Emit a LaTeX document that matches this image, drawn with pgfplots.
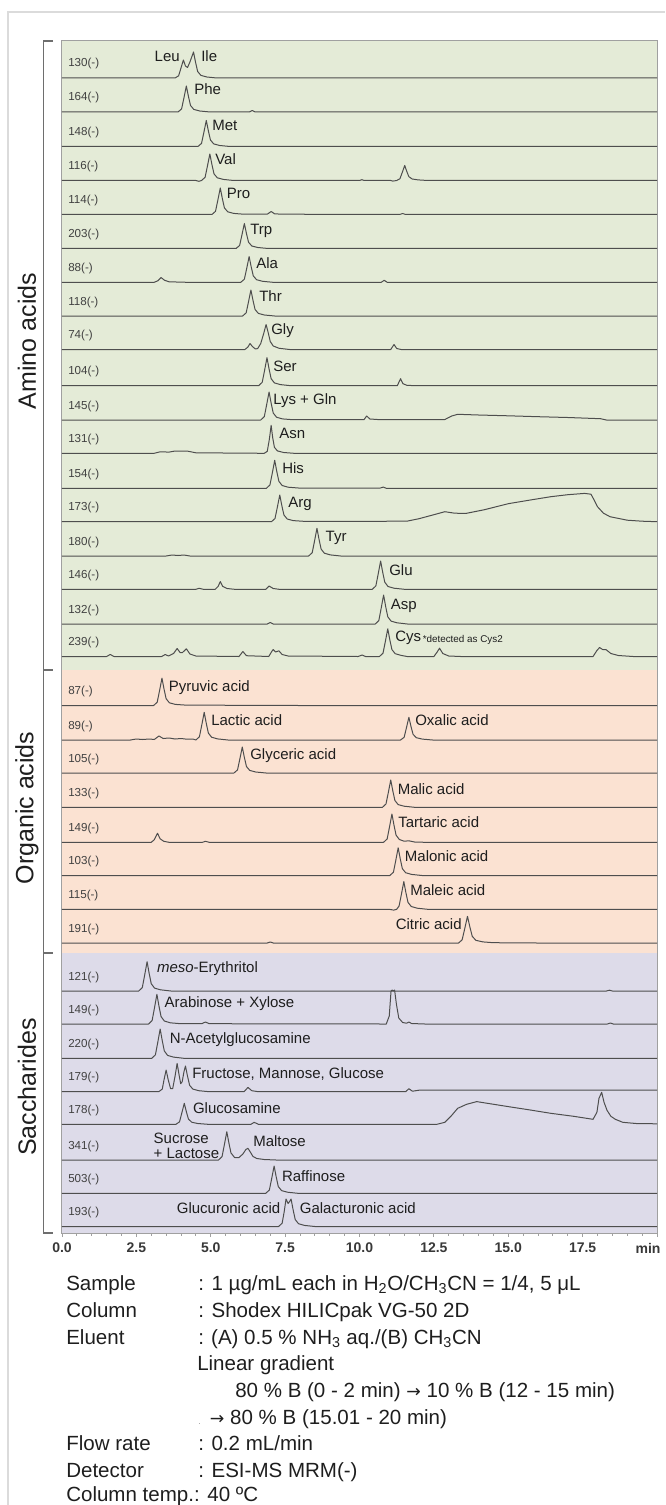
\documentclass[border=0pt]{standalone}
\usepackage{fontspec}
\setmainfont{Liberation Sans}
\newfontfamily\djv{DejaVu Sans}
\usepackage{pgfplots}
\pgfplotsset{compat=1.18}

\definecolor{aabg}{RGB}{228,235,215}
\definecolor{oabg}{RGB}{251,226,210}
\definecolor{sabg}{RGB}{221,219,233}
\definecolor{trc}{RGB}{78,78,78}
\definecolor{frm}{RGB}{160,160,160}
\definecolor{brk}{RGB}{110,110,110}
\definecolor{txt}{RGB}{30,30,30}

% one chromatogram: #1 = baseline (px from top), #2 = "time height" rows (height in px)
\newcommand{\trace}[2]{\addplot[trc, line width=0.75pt, line join=round]
  table[header=false, row sep=\\, x index=0, y expr={1233-#1+\thisrowno{1}}] {#2};}
\newcommand{\arr}{{\djv\fontsize{13}{15}\selectfont →}}

\tikzset{
  pk/.style={font=\fontsize{11.25}{13}\selectfont, inner sep=0pt, anchor=base west, text=txt},
  pke/.style={pk, anchor=base east},
  ion/.style={font=\fontsize{8.7}{10}\selectfont, inner sep=0pt, anchor=base west, text=txt!85},
  grp/.style={font=\fontsize{18.75}{22}\selectfont, rotate=90, inner sep=0pt, text=txt},
  cond/.style={font=\fontsize{15.4}{18}\selectfont, inner sep=0pt, anchor=base west, text=txt},
}

\begin{document}
\begin{tikzpicture}
\path[use as bounding box] (0,0) rectangle (498.75pt,-1128.75pt);
\clip (0,0) rectangle (498.75pt,-1128.75pt);

\begin{scope}[x=0.75pt, y=-0.75pt]
  \draw[black!14, line width=1.1pt] (8,1505) -- (8,12) -- (665,12);
  \fill[aabg] (62,40.7) rectangle (657,670);
  \fill[oabg] (62,670) rectangle (657,953);
  \fill[sabg] (62,953) rectangle (657,1233);
\end{scope}

\begin{axis}[
  at={(46.5pt,-924.75pt)}, anchor=south west,
  scale only axis, width=446.25pt, height=894.225pt,
  xmin=0, xmax=20, ymin=0, ymax=1192.3,
  axis line style={frm, line width=0.75pt},
  ytick=\empty,
  xtick={0,2.5,...,20},
  xticklabels={0.0,2.5,5.0,7.5,10.0,12.5,15.0,17.5,{}},
  minor x tick num=4,
  xtick pos=left, tick align=outside,
  major tick length=3pt, minor tick length=2.2pt,
  tick style={frm, line width=0.6pt},
  xticklabel style={font=\bfseries\fontsize{10.5}{12}\selectfont, text=black!78, yshift=-1pt},
  /pgf/number format/assume math mode=true,
]
% --- amino acids ---
\trace{78}{0 0\\3.8 0\\3.92 2.2\\4.0 10\\4.08 18\\4.15 12\\4.22 10.5\\4.3 16\\4.42 26\\4.49 15.6\\4.56 6.5\\4.67 2.6\\4.87 1\\5.2 0\\20 0\\}
\trace{112}{0 0\\3.9 0\\4.02 3.1\\4.1 14.3\\4.18 26\\4.25 15.6\\4.32 6.5\\4.43 2.6\\4.63 1\\4.98 0\\6.3 0\\6.39 1.5\\6.5 0\\20 0\\}
\trace{146.5}{0 0\\4.57 0\\4.69 3.1\\4.77 14.3\\4.85 26\\4.92 15.6\\4.99 6.5\\5.1 2.6\\5.3 1\\5.65 0\\20 0\\}
\trace{180.5}{0 0\\4.5 0\\4.6 -0.8\\4.69 0\\4.81 3.2\\4.89 14.6\\4.97 26.5\\5.04 15.9\\5.11 6.6\\5.22 2.7\\5.42 1.1\\5.77 0\\10.0 0\\10.08 0.8\\10.16 0\\11.05 0\\11.12 -0.6\\11.25 0\\11.36 1.8\\11.44 8.3\\11.52 15\\11.59 9\\11.66 3.8\\11.77 1.5\\11.97 0.6\\12.3 0\\20 0\\}
\trace{214.5}{0 0\\5.04 0\\5.16 3.2\\5.24 14.6\\5.32 26.5\\5.39 15.9\\5.46 6.6\\5.57 2.7\\5.77 1.1\\6.1 0.3\\6.9 0.3\\7.03 3\\7.15 0.6\\7.5 0.3\\11.35 0\\11.45 1\\11.55 0\\20 0\\}
\trace{248.5}{0 0\\5.85 0\\5.97 3\\6.05 13.8\\6.13 25\\6.2 15\\6.27 6.3\\6.38 2.5\\6.58 1\\6.93 0\\20 0\\}
\trace{282.3}{0 0\\3.1 0\\3.22 1.5\\3.33 4.7\\3.45 2\\3.6 0.5\\4.2 0\\6.01 0\\6.13 3.1\\6.21 14.1\\6.29 25.7\\6.36 15.4\\6.43 6.4\\6.54 2.6\\6.74 1\\7.09 0\\10.73 0\\10.83 2\\10.93 0\\20 0\\}
\trace{316}{0 0\\6.07 0\\6.19 3.1\\6.27 14.3\\6.35 26\\6.42 15.6\\6.49 6.5\\6.6 2.6\\6.8 1\\7.15 0\\20 0\\}
\trace{349.5}{0 0\\6.15 0\\6.25 2.5\\6.32 6\\6.4 3\\6.5 0.5\\6.58 1\\6.68 6\\6.78 16\\6.86 25\\6.93 17\\7.0 8\\7.1 3.5\\7.3 1.2\\7.65 0\\11.05 0\\11.16 5\\11.25 1\\11.4 0\\20 0\\}
\trace{385.7}{0 0\\6.61 0\\6.73 3.4\\6.81 15.4\\6.89 28\\6.96 16.8\\7.03 7\\7.14 2.8\\7.34 1.1\\7.69 0\\11.27 0\\11.38 7\\11.46 2\\11.6 0.3\\12 0\\20 0\\}
\trace{420}{0 0\\6.68 0\\6.8 3.4\\6.88 15.4\\6.96 28\\7.03 16.8\\7.1 7\\7.21 2.8\\7.41 1.1\\7.76 0.3\\10.15 0.3\\10.24 4\\10.35 1\\10.6 0.5\\12.87 0.5\\13.1 4\\13.3 5.7\\14 5\\15 4.2\\16 3.3\\17 2.5\\18.1 1.3\\18.3 0\\20 0\\}
\trace{453.3}{0 0\\3.1 0\\3.3 1.5\\3.6 1.2\\3.8 2.3\\4.2 2.3\\4.5 0.5\\6.8 0\\6.9 2\\6.97 14\\7.03 28\\7.08 16\\7.14 6\\7.24 2.4\\7.45 0.8\\7.8 0\\20 0\\}
\trace{488.3}{0 0\\6.87 0\\6.99 3.4\\7.07 15.4\\7.15 28\\7.22 16.8\\7.29 7\\7.4 2.8\\7.6 1.1\\7.95 0.3\\10.7 0.3\\10.8 1.2\\10.9 0\\20 0\\}
\trace{521.7}{0 0\\7.04 0\\7.16 3.2\\7.24 14.7\\7.32 26.7\\7.39 16\\7.46 6.7\\7.57 2.7\\7.77 1.1\\8.12 0.4\\10.8 0.4\\11.2 0.6\\11.59 0.5\\12.0 3\\12.5 7\\12.87 10\\13.2 8.5\\13.58 8.3\\14.2 12\\15.0 18\\15.7 21.5\\16.43 25\\17.0 27\\17.57 28.3\\17.78 27.5\\17.9 21\\18.0 15\\18.2 8.5\\18.42 5\\19.0 1.5\\19.5 0.5\\20 0\\}
\trace{556}{0 0\\3.5 0\\3.7 1\\3.9 0.5\\4.1 1\\4.3 0\\8.29 0\\8.41 3.3\\8.49 15.2\\8.57 27.7\\8.64 16.6\\8.71 6.9\\8.82 2.8\\9.02 1.1\\9.37 0\\20 0\\}
\trace{589.3}{0 0\\4.5 0\\4.61 1\\4.75 0\\5.15 0\\5.25 3\\5.32 7.7\\5.4 3\\5.55 0.8\\5.8 0\\6.85 0\\6.96 3.3\\7.1 0.8\\7.3 0\\10.43 0\\10.55 3.4\\10.63 15.6\\10.71 28.3\\10.78 17\\10.85 7.1\\10.96 2.8\\11.16 1.1\\11.51 0\\20 0\\}
\trace{624}{0 0\\6.9 0\\7.0 1.5\\7.1 0\\10.53 0\\10.65 3.5\\10.73 16\\10.81 29\\10.88 17.4\\10.95 7.3\\11.06 2.9\\11.26 1.2\\11.61 0\\20 0\\}
\trace{656.5}{0 0\\1.5 0\\1.62 2\\1.75 0\\3.35 0\\3.47 2\\3.58 0.5\\3.75 3\\3.87 8\\3.97 4\\4.05 4\\4.18 7.7\\4.3 2.5\\4.5 0.5\\5.95 0\\6.08 5\\6.2 0.8\\6.95 0\\7.05 5\\7.1 7\\7.18 4.5\\7.29 5.7\\7.4 2\\7.6 0.5\\9.95 0\\10.09 1.5\\10.2 0\\10.67 0\\10.79 3.3\\10.87 15.2\\10.95 27.7\\11.02 16.6\\11.09 6.9\\11.2 2.8\\11.4 1.1\\11.6 0\\12.5 0\\12.6 4\\12.69 8.3\\12.8 3\\13.0 0.5\\13.4 0\\17.85 0\\17.98 6\\18.07 9\\18.17 7\\18.28 7\\18.45 3\\18.7 1\\19.2 0\\20 0\\}
% --- organic acids ---
\trace{705.5}{0 0\\3.08 0\\3.2 3.3\\3.28 15\\3.36 27.3\\3.43 16.4\\3.5 6.8\\3.61 2.7\\3.81 1.1\\4.16 0.4\\6 0.2\\8 0\\20 0\\}
\trace{740}{0 0\\2.3 0\\2.5 1\\2.7 0.5\\2.95 1\\3.1 0.5\\3.26 4\\3.4 1.5\\3.6 2\\3.8 1\\4.0 1.5\\4.2 0.8\\4.4 1\\4.5 0\\4.62 3.3\\4.7 15.2\\4.78 27.7\\4.85 16.6\\4.92 6.9\\5.03 2.8\\5.23 1.1\\5.58 0\\11.38 0\\11.5 2.7\\11.58 12.5\\11.66 22.7\\11.73 13.6\\11.8 5.7\\11.91 2.3\\12.11 0.9\\12.46 0\\20 0\\}
\trace{773}{0 0\\5.78 0\\5.9 3.1\\5.98 14.3\\6.06 26\\6.13 15.6\\6.2 6.5\\6.31 2.6\\6.51 1\\6.86 0\\20 0\\}
\trace{807.3}{0 0\\10.77 0\\10.89 3.3\\10.97 15\\11.05 27.3\\11.12 16.4\\11.19 6.8\\11.3 2.7\\11.5 1.1\\11.85 0\\20 0\\}
\trace{842.3}{0 0\\3.0 0\\3.1 2.5\\3.21 9\\3.3 3.5\\3.42 1\\3.6 0\\4.72 0\\4.82 1\\4.95 0\\10.81 0\\10.93 3.4\\11.01 15.6\\11.09 28.3\\11.16 17\\11.23 7.1\\11.34 2.8\\11.5 1.1\\11.66 1.5\\11.85 0.3\\12.2 0\\20 0\\}
\trace{875.5}{0 0\\11.02 0\\11.14 3.3\\11.22 15.2\\11.3 27.7\\11.37 16.6\\11.44 6.9\\11.55 2.8\\11.75 1.1\\12.1 0\\20 0\\}
\trace{909.3}{0 0\\11.0 0\\11.15 -0.8\\11.25 0\\11.33 3.3\\11.41 15.2\\11.49 27.7\\11.56 16.6\\11.63 6.9\\11.74 2.8\\11.94 1.1\\12.29 0\\20 0\\}
\trace{943}{0 0\\6.9 0\\7.0 1\\7.1 0\\13.33 0\\13.45 3.2\\13.54 14.7\\13.63 26.7\\13.71 16\\13.79 6.7\\13.91 2.7\\14.15 1.1\\14.5 0.3\\16 0\\20 0\\}
% --- saccharides ---
\trace{991}{0 0\\2.58 0\\2.7 3.5\\2.78 16.1\\2.86 29.3\\2.93 17.6\\3.0 7.3\\3.11 2.9\\3.31 1.2\\3.66 0\\18.3 0\\18.4 0.8\\18.5 0\\20 0\\}
\trace{1024}{0 0\\2.91 0\\3.03 3.6\\3.11 16.3\\3.19 29.7\\3.26 17.8\\3.33 7.4\\3.44 3\\3.64 1.2\\3.99 0.3\\4.7 0.3\\4.82 2\\4.95 0.3\\10.9 0\\11.0 8\\11.06 33\\11.1 34\\11.14 33\\11.18 34\\11.24 20\\11.32 6\\11.45 1.5\\11.58 0.8\\11.66 2\\11.75 0.5\\12.2 0\\18.33 0\\18.43 1\\18.53 0\\20 0\\}
\trace{1058.3}{0 0\\3.02 0\\3.14 3.5\\3.22 16.1\\3.3 29.3\\3.37 17.6\\3.44 7.3\\3.55 2.9\\3.75 1.2\\4.1 0\\20 0\\}
\trace{1091.7}{0 0\\3.25 0\\3.37 2.6\\3.43 12\\3.5 21.7\\3.57 12\\3.65 3\\3.72 3\\3.8 15.5\\3.87 28.3\\3.94 16\\3.99 8\\4.04 10\\4.1 20\\4.15 25.7\\4.22 15.4\\4.29 6.4\\4.4 2.6\\4.6 1\\4.95 0\\6.12 0\\6.25 4.3\\6.38 1\\6.6 0\\11.55 0\\11.66 3\\11.78 0.5\\12 1.5\\20 1.5\\}
\trace{1124.3}{0 0\\3.83 0\\3.95 2.5\\4.03 11.6\\4.11 21\\4.18 12.6\\4.25 5.3\\4.36 2.1\\4.56 0.8\\4.91 0\\6.35 0\\6.46 2\\6.6 0\\12.6 0\\12.87 2\\13.1 9\\13.3 16\\13.6 20\\13.94 22.7\\14.3 21\\15.0 17.7\\15.7 14.5\\16.43 11\\17.2 8\\17.85 5\\17.98 12\\18.05 26\\18.14 32\\18.22 22\\18.32 14\\18.45 8\\18.6 5\\18.85 2\\19.3 0.8\\20 0.5\\}
\trace{1160}{0 0\\5.26 0\\5.38 3.4\\5.46 15.6\\5.54 28.3\\5.61 17\\5.68 7.1\\5.8 2.5\\5.95 2.5\\6.08 6\\6.18 10.5\\6.25 11.7\\6.33 8\\6.42 3.5\\6.55 1.5\\6.8 0.5\\7.2 0\\20 0\\}
\trace{1193.3}{0 0\\6.85 0\\6.97 3.3\\7.05 15\\7.13 27.3\\7.2 16.4\\7.27 6.8\\7.38 2.7\\7.58 1.1\\7.93 0\\20 0\\}
\trace{1226.5}{0 0\\7.28 0\\7.4 3.3\\7.47 15\\7.53 27.5\\7.6 23\\7.65 25\\7.7 27.5\\7.77 16.5\\7.84 6.9\\7.95 2.8\\8.15 1.1\\8.5 0\\20 0\\}
\end{axis}

\begin{scope}[x=0.75pt, y=-0.75pt]
  % group bracket
  \draw[brk, line width=1pt] (53,41) -- (43.3,41) -- (43.3,1233) -- (53,1233);
  \draw[brk, line width=1pt] (43.3,670) -- (53,670);
  \draw[brk, line width=1pt] (43.3,953) -- (53,953);
  \node[grp] at (27,341) {Amino acids};
  \node[grp] at (27,808) {Organic acids};
  \node[grp] at (27,1087) {Saccharides};

  % ion labels
  \foreach \lab/\b in {130/78,164/112,148/146.5,116/180.5,114/214.5,203/248.5,88/282.3,118/316,
      74/349.5,104/385.7,145/420,131/453.3,154/488.3,173/521.7,180/556,146/589.3,132/624,239/656.5,
      87/705.5,89/740,105/773,133/807.3,149/842.3,103/875.5,115/909.3,191/943,
      121/991,149/1024,220/1058.3,179/1091.7,178/1124.3,341/1160,503/1193.3,193/1226.5}
    \node[ion] at (68,\b-11) {\lab(-)};

  % peak names
  \node[pke] at (180,62) {Leu};
  \node[pk] at (201,62) {Ile};
  \node[pk] at (194,95) {Phe};
  \node[pk] at (212,131) {Met};
  \node[pk] at (215,165) {Val};
  \node[pk] at (226.7,199) {Pro};
  \node[pk] at (250,235) {Trp};
  \node[pk] at (256,268) {Ala};
  \node[pk] at (259,301.7) {Thr};
  \node[pk] at (271,334) {Gly};
  \node[pk] at (273,371) {Ser};
  \node[pk] at (273,404) {Lys + Gln};
  \node[pk] at (279,438) {Asn};
  \node[pk] at (282,473) {His};
  \node[pk] at (288,507.7) {Arg};
  \node[pk] at (325.4,541.7) {Tyr};
  \node[pk] at (389,575) {Glu};
  \node[pk] at (390.7,609) {Asp};
  \node[pk] at (395,641.7) {Cys};
  \node[pk, font=\fontsize{7.4}{9}\selectfont] at (422.5,642.5) {*detected as Cys2};
  \node[pk] at (168.6,691.7) {Pyruvic acid};
  \node[pk] at (211,725.7) {Lactic acid};
  \node[pk] at (415,725.7) {Oxalic acid};
  \node[pk] at (250,759.3) {Glyceric acid};
  \node[pk] at (397.5,794) {Malic acid};
  \node[pk] at (398,827.7) {Tartaric acid};
  \node[pk] at (404.7,861.7) {Malonic acid};
  \node[pk] at (410,895.7) {Maleic acid};
  \node[pke] at (461.9,929) {Citric acid};
  \node[pk] at (156.8,972.3) {\textit{meso}-Erythritol};
  \node[pk] at (164.4,1007.7) {Arabinose + Xylose};
  \node[pk] at (169.5,1043.3) {N-Acetylglucosamine};
  \node[pk] at (192,1078.3) {Fructose, Mannose, Glucose};
  \node[pk] at (192.8,1113.3) {Glucosamine};
  \node[pk] at (153.4,1143.3) {Sucrose};
  \node[pk] at (153.4,1158.3) {+ Lactose};
  \node[pk] at (253,1146.7) {Maltose};
  \node[pk] at (281.8,1181) {Raffinose};
  \node[pke] at (280.5,1213.3) {Glucuronic acid};
  \node[pk] at (299.6,1213.3) {Galacturonic acid};

  % axis unit
  \node[font=\bfseries\fontsize{10.5}{12}\selectfont, text=black!78, inner sep=0pt] at (648,1248) {min};

  % conditions
  \node[cond] at (66,1290.3) {Sample};
  \node[cond] at (198,1290.3) {: 1 µg/mL each in H\textsubscript{2}O/CH\textsubscript{3}CN = 1/4, 5 μL};
  \node[cond] at (66,1317.3) {Column};
  \node[cond] at (198,1317.3) {: Shodex HILICpak VG-50 2D};
  \node[cond] at (66,1344.3) {Eluent};
  \node[cond] at (198,1344.3) {:\hspace{0.35em}(A) 0.5 \% NH\textsubscript{3} aq./(B) CH\textsubscript{3}CN};
  \node[cond] at (197,1370.3) {Linear gradient};
  \node[cond] at (235,1397.3) {80 \% B (0 - 2 min) \arr{} 10 \% B (12 - 15 min)};
  \node[cond, font=\fontsize{6}{7}\selectfont, text=black!50] at (198,1424) {.};
  \node[cond] at (209.7,1424.3) {\arr{} 80 \% B (15.01 - 20 min)};
  \node[cond] at (66,1450.3) {Flow rate};
  \node[cond] at (198,1450.3) {: 0.2 mL/min};
  \node[cond] at (66,1477.3) {Detector};
  \node[cond] at (198,1477.3) {: ESI-MS MRM(-)};
  \node[cond] at (66,1501) {Column temp.: 40 ºC};
\end{scope}
\end{tikzpicture}
\end{document}
